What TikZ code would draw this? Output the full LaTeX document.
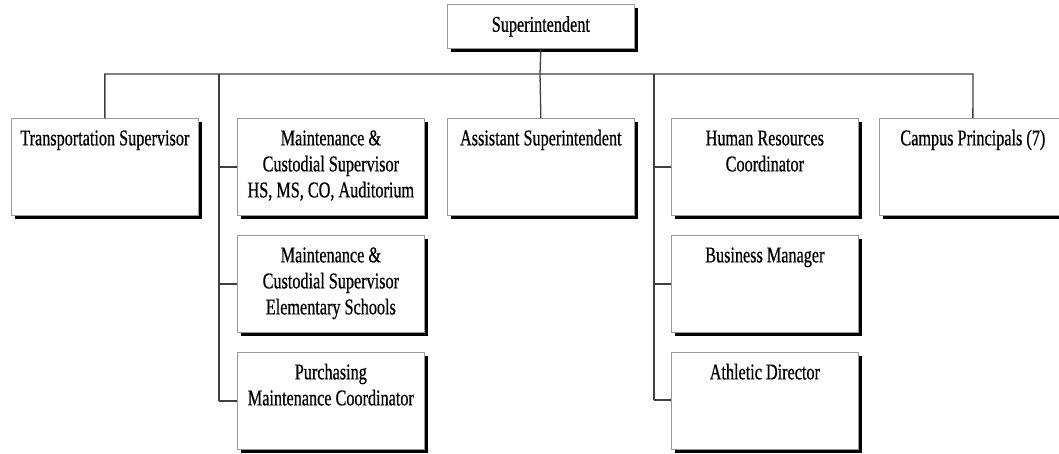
\documentclass[tikz,border=0pt]{standalone}
\usepackage{fontspec}
\setmainfont[FakeStretch=0.72,FakeBold=0.6]{Liberation Serif}
\usetikzlibrary{shadows}
\newcommand\boxtext[1]{\parbox[c][97pt][t]{187pt}{\centering\rule{0pt}{27pt}#1}}
\begin{document}
\begin{tikzpicture}[x=1pt,y=-1pt,
  font=\fontsize{22.5}{26}\selectfont,
  orgbox/.style={draw=black!40, line width=0.7pt, fill=white,
    minimum width=187pt, minimum height=97pt, inner sep=0pt, anchor=north west,
    drop shadow={shadow xshift=4pt, shadow yshift=-4pt, fill=black, opacity=1}},
  topbox/.style={orgbox, minimum height=44pt},
  link/.style={draw=black!75, line width=1.3pt}]
\useasboundingbox (0,0) rectangle (1059,453);
\clip (0,0) rectangle (1059,453);

% connector grid
\coordinate (busL) at (105,74);
\coordinate (busR) at (973,74);
\coordinate (busM) at (540,74);
\coordinate (trunkA) at (219,74);
\coordinate (trunkB) at (654,74);
\coordinate (trunkAend) at (219,401);
\coordinate (trunkBend) at (654,400);

% boxes
\node[topbox] (sup) at (447,4) {Superintendent};
\node[orgbox] (trans) at (11,118) {\boxtext{Transportation Supervisor}};
\node[orgbox] (mcs1) at (237,118) {\boxtext{Maintenance \&\\Custodial Supervisor\\HS, MS, CO, Auditorium}};
\node[orgbox] (mcs2) at (237,235) {\boxtext{Maintenance \&\\Custodial Supervisor\\Elementary Schools}};
\node[orgbox] (purch) at (237,352) {\boxtext{Purchasing\\Maintenance Coordinator}};
\node[orgbox] (asst) at (447,118) {\boxtext{Assistant Superintendent}};
\node[orgbox] (hr) at (671,118) {\boxtext{Human Resources\\Coordinator}};
\node[orgbox] (biz) at (671,235) {\boxtext{Business Manager}};
\node[orgbox] (ath) at (671,352) {\boxtext{Athletic Director}};
\node[orgbox] (camp) at (879,118) {\boxtext{Campus Principals (7)}};

% connectors
\draw[link] (sup.south) -- (busM);
\draw[link] (trans.north) |- (busL) -- (busR) -- (camp.north);
\draw[link] (busM) -- (asst.north);
\draw[link] (trunkA) -- (trunkAend);
\draw[link] (trunkB) -- (trunkBend);
\draw[link] (trunkA |- mcs1.west) -- (mcs1.west);
\draw[link] (trunkA |- mcs2.west) -- (mcs2.west);
\draw[link] (trunkAend) -- (trunkAend -| purch.west);
\draw[link] (trunkB |- hr.west) -- (hr.west);
\draw[link] (trunkB |- biz.west) -- (biz.west);
\draw[link] (trunkBend) -- (trunkBend -| ath.west);
\end{tikzpicture}
\end{document}
